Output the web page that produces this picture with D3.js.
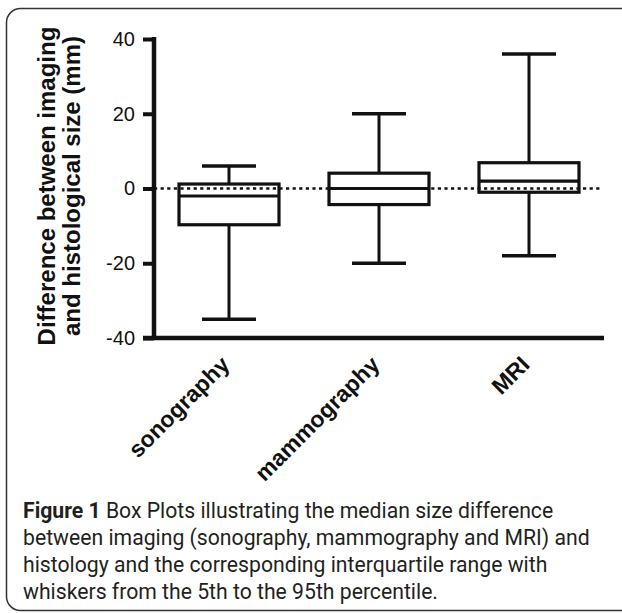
<!DOCTYPE html>
<html>
<head>
<meta charset="utf-8">
<script src="https://cdn.jsdelivr.net/npm/d3@7"></script>
<style>
  body { margin: 0; background: #fff; }
  svg { display: block; font-family: Arial, "Liberation Sans", sans-serif; }
  .tick-label { font-size: 20px; fill: #111; }
  .cat-label { font-size: 23px; font-weight: bold; fill: #111; }
  .y-title { font-size: 24px; font-weight: bold; fill: #111; }
  .caption { font-family: Roboto, sans-serif; font-size: 21.2px; fill: #231f20; }
</style>
</head>
<body>
<div id="main"></div>
<script>
// box plot data (mm)
const categories = ['sonography', 'mammography', 'MRI'];
const p5 = [-35, -20, -18];
const q1 = [-9.7, -4.3, -1];
const medians = [-2, 0, 2];
const q3 = [1.2, 4.1, 6.9];
const p95 = [6, 20, 36];
const yTicks = [-40, -20, 0, 20, 40];
const captionLines = [
  ['Figure 1', ' Box Plots illustrating the median size difference'],
  ['', 'between imaging (sonography, mammography and MRI) and'],
  ['', 'histology and the corresponding interquartile range with'],
  ['', 'whiskers from the 5th to the 95th percentile.']
];

const width = 622, height = 613;
const svg = d3.select('#main').append('svg')
  .attr('width', width)
  .attr('height', height);

// rounded frame, runs off the right edge
svg.append('rect')
  .attr('x', 6.5).attr('y', 8.5)
  .attr('width', 640).attr('height', 602)
  .attr('rx', 14)
  .attr('fill', 'none')
  .attr('stroke', '#333')
  .attr('stroke-width', 1.5);

const x = d3.scaleBand().domain(categories).range([154, 604]);
const y = d3.scaleLinear().domain([-40, 40]).range([338, 39]);

const g = svg.append('g');

// zero reference
g.append('line')
  .attr('x1', 154).attr('x2', 600)
  .attr('y1', y(0)).attr('y2', y(0))
  .attr('stroke', '#111')
  .attr('stroke-width', 2.6)
  .attr('stroke-dasharray', '3.2,3.4');

const boxes = g.selectAll('.box')
  .data(categories.map((c, i) => ({c, lo: p5[i], q1: q1[i], med: medians[i], q3: q3[i], hi: p95[i]})))
  .join('g')
  .attr('class', 'box')
  .attr('transform', d => `translate(${x(d.c) + x.bandwidth() / 2},0)`);

const boxW = 100, capW = 54;

boxes.append('line')
  .attr('y1', d => y(d.hi)).attr('y2', d => y(d.q3))
  .attr('stroke', '#111').attr('stroke-width', 3);
boxes.append('line')
  .attr('y1', d => y(d.q1)).attr('y2', d => y(d.lo))
  .attr('stroke', '#111').attr('stroke-width', 3);
boxes.selectAll('.cap')
  .data(d => [d.lo, d.hi])
  .join('line')
  .attr('class', 'cap')
  .attr('x1', -capW / 2).attr('x2', capW / 2)
  .attr('y1', v => y(v)).attr('y2', v => y(v))
  .attr('stroke', '#111').attr('stroke-width', 3.5);
boxes.append('rect')
  .attr('x', -boxW / 2).attr('width', boxW)
  .attr('y', d => y(d.q3))
  .attr('height', d => y(d.q1) - y(d.q3))
  .attr('fill', 'none')
  .attr('stroke', '#111').attr('stroke-width', 3.2);
boxes.append('line')
  .attr('x1', -boxW / 2).attr('x2', boxW / 2)
  .attr('y1', d => y(d.med)).attr('y2', d => y(d.med))
  .attr('stroke', '#111').attr('stroke-width', 3.2);

// y axis
const yAxis = g.append('g')
  .attr('transform', 'translate(154,0)')
  .call(d3.axisLeft(y).tickValues(yTicks).tickSize(11).tickPadding(8).tickFormat(d => String(d)));
yAxis.select('.domain').remove();
yAxis.selectAll('.tick line').attr('stroke', '#111').attr('stroke-width', 4);
yAxis.selectAll('.tick text').attr('class', 'tick-label').attr('font-size', null).attr('font-family', null);
yAxis.append('line')
  .attr('y1', y(40) - 2).attr('y2', y(-40))
  .attr('stroke', '#111').attr('stroke-width', 4.5);

// x axis
const xAxis = g.append('g')
  .attr('transform', `translate(0,${y(-40)})`)
  .call(d3.axisBottom(x).tickSize(0).tickPadding(0));
xAxis.select('.domain').remove();
xAxis.append('line')
  .attr('x1', 143).attr('x2', 604)
  .attr('stroke', '#111').attr('stroke-width', 4.5);
xAxis.selectAll('.tick text')
  .attr('class', 'cat-label')
  .attr('font-size', null).attr('font-family', null)
  .attr('text-anchor', 'end')
  .attr('dy', null)
  .attr('transform', 'translate(2,28) rotate(-45)');

// y title
const yt = svg.append('text')
  .attr('class', 'y-title')
  .attr('text-anchor', 'middle')
  .attr('transform', 'translate(55,186) rotate(-90)');
yt.append('tspan').attr('x', 0).attr('dy', 0).text('Difference between imaging');
yt.append('tspan').attr('x', 0).attr('dy', 25).text('and histological size (mm)');

// caption
const cap = svg.append('text').attr('class', 'caption');
captionLines.forEach((ln, i) => {
  const t = cap.append('tspan').attr('x', 23).attr('y', 518 + i * 27);
  if (ln[0]) t.append('tspan').attr('font-weight', 'bold').text(ln[0]);
  t.append('tspan').text(ln[1]);
});
</script>
</body>
</html>
